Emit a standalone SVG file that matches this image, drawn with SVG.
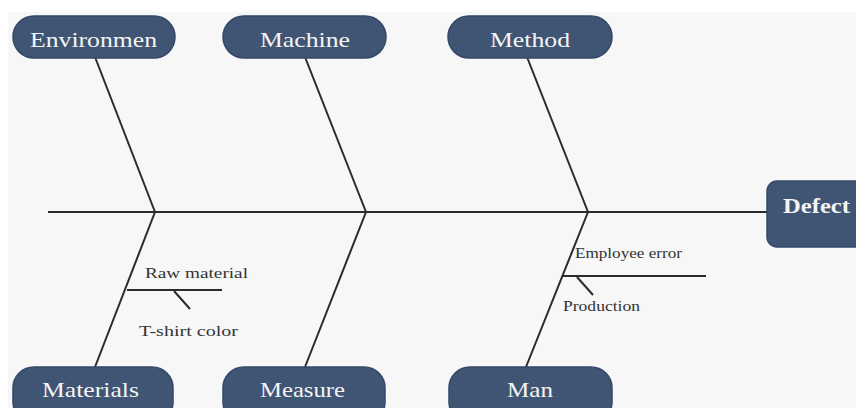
<svg xmlns="http://www.w3.org/2000/svg" width="856" height="408" viewBox="0 0 856 408">
<style>
.node{fill:#3f5573;stroke:#34486a;stroke-width:1.5}
.nt{font-family:"Liberation Serif",serif;font-size:22px;fill:#f4f4f4}
.bone{stroke:#2b2b2b;stroke-width:2;fill:none}
.sub{font-family:"Liberation Serif",serif;font-size:15px;fill:#333}
</style>
<rect x="0" y="0" width="856" height="408" fill="#ffffff"/>
<rect x="8" y="12" width="848" height="396" fill="#f7f7f7"/>
<g id="connectors">
<line class="bone" x1="48" y1="212" x2="768" y2="212"/>
<line class="bone" x1="95" y1="57" x2="155" y2="212"/>
<line class="bone" x1="305" y1="57" x2="366" y2="212"/>
<line class="bone" x1="527" y1="57" x2="588" y2="212"/>
<line class="bone" x1="155" y1="212" x2="95" y2="367"/>
<line class="bone" x1="366" y1="212" x2="305" y2="367"/>
<line class="bone" x1="588" y1="212" x2="526" y2="367"/>
<line class="bone" x1="127" y1="290" x2="222" y2="290"/>
<line class="bone" x1="174" y1="291" x2="190" y2="309"/>
<line class="bone" x1="563" y1="276" x2="706" y2="276"/>
<line class="bone" x1="577" y1="277" x2="593" y2="295"/>
</g>
<g id="sub-labels">
<text class="sub" x="145" y="278" textLength="103" lengthAdjust="spacingAndGlyphs">Raw material</text>
<text class="sub" x="139" y="336" textLength="99" lengthAdjust="spacingAndGlyphs">T-shirt color</text>
<text class="sub" x="575" y="258" textLength="107" lengthAdjust="spacingAndGlyphs">Employee error</text>
<text class="sub" x="563" y="311" textLength="77" lengthAdjust="spacingAndGlyphs">Production</text>
</g>
<g id="n-environment"><rect class="node" x="13" y="16" width="162" height="42" rx="21"/><text class="nt" x="30" y="47" textLength="127" lengthAdjust="spacingAndGlyphs">Environmen</text></g>
<g id="n-machine"><rect class="node" x="223" y="16" width="163" height="42" rx="21"/><text class="nt" x="260" y="47" textLength="90" lengthAdjust="spacingAndGlyphs">Machine</text></g>
<g id="n-method"><rect class="node" x="448" y="16" width="164" height="42" rx="21"/><text class="nt" x="490" y="47" textLength="80" lengthAdjust="spacingAndGlyphs">Method</text></g>
<g id="n-materials"><rect class="node" x="13" y="367" width="160" height="56" rx="21"/><text class="nt" x="42" y="397" textLength="97" lengthAdjust="spacingAndGlyphs">Materials</text></g>
<g id="n-measure"><rect class="node" x="223" y="367" width="162" height="56" rx="21"/><text class="nt" x="260" y="397" textLength="85" lengthAdjust="spacingAndGlyphs">Measure</text></g>
<g id="n-man"><rect class="node" x="449" y="367" width="163" height="56" rx="21"/><text class="nt" x="507" y="397" textLength="46" lengthAdjust="spacingAndGlyphs">Man</text></g>
<g id="n-defect"><rect class="node" x="767" y="181" width="100" height="66" rx="10"/><text class="nt" x="783" y="213" style="font-weight:bold" textLength="67" lengthAdjust="spacingAndGlyphs">Defect</text></g>
</svg>
